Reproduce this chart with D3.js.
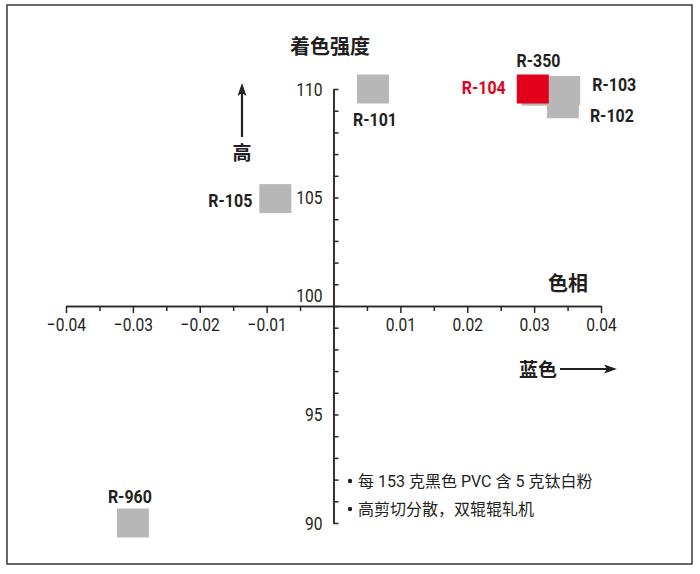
<!DOCTYPE html>
<html>
<head>
<meta charset="utf-8">
<script src="https://cdn.jsdelivr.net/npm/d3@7"></script>
<style>
  body { margin: 0; background: #fff; }
  svg { display: block; }
  .axis path, .axis line { stroke: #2b2626; stroke-width: 1.5px; }
  .axis text { font-family: Roboto, sans-serif; font-size: 19px; fill: #231f20; }
</style>
</head>
<body>
<svg id="chart" width="700" height="574"></svg>
<script>
// pigment samples: hue shift (x) vs tinting strength (y)
var names    = ["R-102", "R-103", "R-350", "R-104", "R-101", "R-105", "R-960"];
var hue      = [0.0343, 0.0345, 0.0305, 0.0298, 0.0059, -0.0087, -0.0300];
var strength = [109.32, 109.93, 109.90, 110.00, 110.00, 104.95, 90.00];
var highlight = ["R-104"];

var xTicks = [-0.04, -0.03, -0.02, -0.01, 0.01, 0.02, 0.03, 0.04];
var yTicks = [90, 95, 100, 105, 110];
var notes = ["每 153 克黑色 PVC 含 5 克钛白粉", "高剪切分散，双辊辊轧机"];

var svg = d3.select('#chart');
var ink = '#231f20';
var cjk = '"Noto Sans CJK SC", sans-serif';
var latin = 'Roboto, "Noto Sans CJK SC", sans-serif';
var squeeze = 0.82;   // the original uses a condensed face

// frame
svg.append("rect")
    .attr("x", 7).attr("y", 5)
    .attr("width", 685).attr("height", 559)
    .attr("fill", "none")
    .attr("stroke", "#444")
    .attr("stroke-width", 1.6);

var x = d3.scaleLinear().domain([-0.04, 0.04]).range([66, 601]);
var y = d3.scaleLinear().domain([90, 110]).range([523, 89]);

var x0 = x(0), y0 = y(100);

// x axis, minor ticks every 0.005
var xMinor = d3.range(-8, 9).map(function(i){ return i * 0.005; })
    .filter(function(v){ return Math.abs(v) > 1e-9 && Math.round(v * 1000) % 10 !== 0; });

svg.append("g")
    .attr("class", "axis")
    .attr("transform", "translate(0," + y0 + ")")
    .call(d3.axisBottom(x).tickValues(xMinor).tickSize(5).tickSizeOuter(0).tickFormat(""));

svg.append("g")
    .attr("class", "axis")
    .attr("transform", "translate(0," + y0 + ")")
    .call(d3.axisBottom(x).tickValues(xTicks).tickSizeInner(7).tickSizeOuter(0).tickPadding(5)
        .tickFormat(function(d){ return (d < 0 ? "\u2212" : "") + Math.abs(d).toFixed(2); }))
    .selectAll("text")
    .attr("transform", "scale(" + squeeze + ",1)");

// y axis, ticks to the inside (right)
var yMinor = d3.range(90, 111).filter(function(v){ return v % 5 !== 0; });

svg.append("g")
    .attr("class", "axis")
    .attr("transform", "translate(" + x0 + ",0)")
    .call(d3.axisLeft(y).tickValues(yMinor).tickSizeInner(-5).tickSizeOuter(0).tickFormat(""));

var yg = svg.append("g")
    .attr("class", "axis")
    .attr("transform", "translate(" + x0 + ",0)")
    .call(d3.axisLeft(y).tickValues(yTicks).tickSizeInner(-5).tickSizeOuter(0).tickPadding(11));
yg.selectAll("text")
    .attr("x", -11 / squeeze)
    .attr("transform", "scale(" + squeeze + ",1)");
yg.selectAll("text").filter(function(d){ return d === 100; })
    .attr("dy", "-0.25em");

// squares
var W = 32, H = 29;
var pts = names.map(function(n, i){ return {name: n, h: hue[i], s: strength[i]}; });

svg.append("g").selectAll("rect")
    .data(pts)
    .enter().append("rect")
    .attr("x", function(d){ return x(d.h) - W/2; })
    .attr("y", function(d){ return y(d.s) - H/2; })
    .attr("width", W)
    .attr("height", H)
    .attr("fill", function(d){ return highlight.indexOf(d.name) >= 0 ? '#e2001a' : '#b7b7b7'; });

// label offsets from square centre
var labelOff = {
    "R-102": [49, 18], "R-103": [50, 0], "R-350": [1, -24], "R-104": [-49, 5],
    "R-101": [2, 37], "R-105": [-45, 8], "R-960": [-3, -20]
};

svg.append("g").selectAll("text")
    .data(pts)
    .enter().append("text")
    .attr("transform", function(d){
        return "translate(" + (x(d.h) + labelOff[d.name][0]) + "," + (y(d.s) + labelOff[d.name][1]) +
            ") scale(0.84,1)";
    })
    .attr("text-anchor", "middle")
    .style("font-family", latin)
    .style("font-weight", "bold")
    .style("font-size", "19px")
    .attr("fill", function(d){ return highlight.indexOf(d.name) >= 0 ? '#e2001a' : ink; })
    .text(function(d){ return d.name; });

// axis titles
function title(t, tx, ty, size){
    svg.append("text")
        .attr("x", tx).attr("y", ty)
        .attr("text-anchor", "middle")
        .style("font-family", cjk).style("font-weight", "bold").style("font-size", size + "px")
        .attr("fill", ink)
        .text(t);
}
title("着色强度", 330, 54, 20);
title("色相", 568, 291, 20);
title("高", 242, 160, 19);
title("蓝色", 538, 377, 19);

// arrows
svg.append("defs").append("marker")
    .attr("id", "arrowhead")
    .attr("refX", 9)
    .attr("refY", 4.5)
    .attr("markerWidth", 13)
    .attr("markerHeight", 9)
    .attr("markerUnits", "userSpaceOnUse")
    .attr("orient", "auto")
    .append("path")
    .attr("d", "M 0,0 L 13,4.5 L 0,9 L 3,4.5 Z")
    .attr("fill", ink);

svg.append("line")
    .attr("x1", 242).attr("y1", 137)
    .attr("x2", 242).attr("y2", 87)
    .attr("stroke", ink).attr("stroke-width", 2.2)
    .attr("marker-end", "url(#arrowhead)");

svg.append("line")
    .attr("x1", 560).attr("y1", 369)
    .attr("x2", 613).attr("y2", 369)
    .attr("stroke", ink).attr("stroke-width", 2.2)
    .attr("marker-end", "url(#arrowhead)");

// notes
notes.forEach(function(t, i){
    var g = svg.append("g").attr("transform", "translate(350," + (487 + i * 28) + ")");
    g.append("circle").attr("cx", 0).attr("cy", -6).attr("r", 2.2).attr("fill", ink);
    g.append("text")
        .attr("x", 8).attr("y", 0)
        .style("font-family", latin).style("font-size", "16px")
        .attr("fill", ink)
        .text(t);
});
</script>
</body>
</html>
